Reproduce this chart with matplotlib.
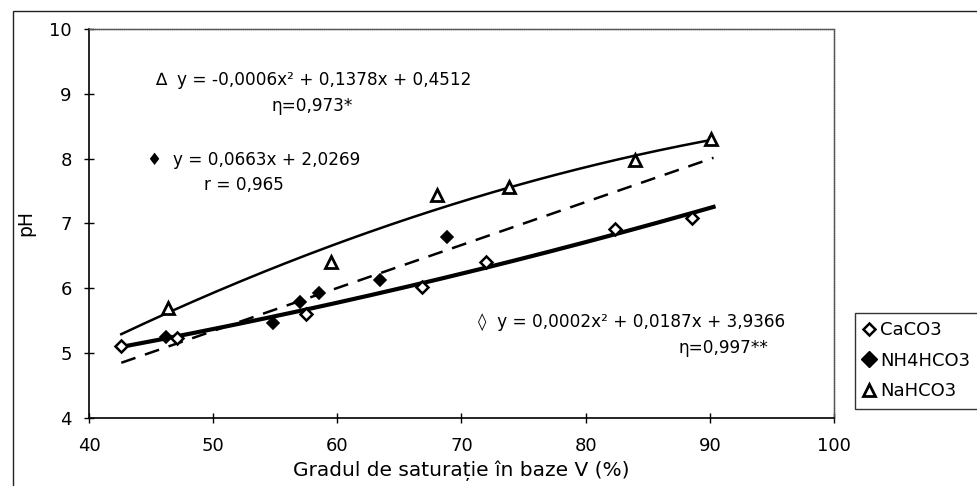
import numpy as np
import matplotlib
matplotlib.use("Agg")
import matplotlib.pyplot as plt
from matplotlib.patches import Rectangle
from matplotlib.lines import Line2D

plt.rcParams['font.family'] = ['DejaVu Sans']

# measurements: base saturation V (%) vs pH
caco3_x = [42.6, 47.1, 57.5, 66.8, 72.0, 82.4, 88.6]
caco3_y = [5.11, 5.23, 5.61, 6.02, 6.41, 6.91, 7.08]

nh4_x = [46.2, 54.8, 57.0, 58.5, 63.4, 68.8]
nh4_y = [5.25, 5.47, 5.79, 5.92, 6.13, 6.79]

na_x = [46.4, 59.5, 68.0, 73.8, 84.0, 90.1]
na_y = [5.69, 6.41, 7.44, 7.57, 7.98, 8.30]

# trendline coefficients (highest power first)
caco3_coef = [0.0002, 0.0187, 3.9366]
nh4_coef = [0.0663, 2.0269]
fit_range = (42.6, 90.3)

fig = plt.figure(figsize=(9.77, 4.86), dpi=100)
ax = fig.add_axes([0.0911, 0.140, 0.7625, 0.8003])

# outer chart frame
fig.patches.append(Rectangle((13 / 977, -0.05), 1.1, 1 - 11 / 486 + 0.05,
                             transform=fig.transFigure, fill=False,
                             edgecolor='#222222', linewidth=1.0))

xs = np.linspace(*fit_range, 200)
na_coef = np.polyfit(na_x, na_y, 2)
ax.plot(xs, np.polyval(na_coef, xs), color='black', lw=1.8)
ax.plot(xs, np.polyval(nh4_coef, xs), color='black', lw=1.8, dashes=(6, 4))
ax.plot(xs, np.polyval(caco3_coef, xs), color='black', lw=3.0)

ax.plot(caco3_x, caco3_y, linestyle='none', marker='D', ms=6.5,
        mfc='white', mec='black', mew=1.8)
ax.plot(nh4_x, nh4_y, linestyle='none', marker='D', ms=6.5,
        mfc='black', mec='black', mew=1.2)
ax.plot(na_x, na_y, linestyle='none', marker='^', ms=9,
        mfc='white', mec='black', mew=2.0)

ax.set_xlim(40, 100)
ax.set_ylim(4, 10)
ax.set_xticks(range(40, 101, 10))
ax.set_yticks(range(4, 11))
ax.tick_params(direction='inout', length=7, width=1, labelsize=13)
ax.tick_params(axis='x', pad=10)
ax.tick_params(axis='y', pad=9)
for s in ['top', 'right']:
    ax.spines[s].set_color('#555555')
    ax.spines[s].set_linewidth(1.0)
    ax.spines[s].set_linestyle((0, (1, 0.5)))
for s in ['left', 'bottom']:
    ax.spines[s].set_linewidth(1.2)

ax.set_xlabel('Gradul de saturație în baze V (%)', fontsize=14.5, labelpad=4)
ax.set_ylabel('pH', fontsize=13.5, labelpad=10)

fs = 12.2
ax.text(45.3, 9.21, '∆  y = -0,0006x² + 0,1378x + 0,4512', fontsize=fs,
        ha='left', va='center')
ax.text(58.0, 8.81, 'η=0,973*', fontsize=fs, ha='center', va='center')
ax.text(44.7, 7.98, '♦  y = 0,0663x + 2,0269', fontsize=fs,
        ha='left', va='center')
ax.text(52.5, 7.59, 'r = 0,965', fontsize=fs, ha='center', va='center')
ax.text(71.3, 5.48, '◊  y = 0,0002x² + 0,0187x + 3,9366', fontsize=fs,
        ha='left', va='center')
ax.text(91.1, 5.08, 'η=0,997**', fontsize=fs, ha='center', va='center')

handles = [
    Line2D([], [], linestyle='none', marker='D', ms=6, mfc='white', mec='black', mew=1.8),
    Line2D([], [], linestyle='none', marker='D', ms=8, mfc='black', mec='black'),
    Line2D([], [], linestyle='none', marker='^', ms=9, mfc='white', mec='black', mew=2.0),
]
leg = fig.legend(handles, ['CaCO3', 'NH4HCO3', 'NaHCO3'],
                 loc='upper left', bbox_to_anchor=(855 / 977, 1 - 313 / 486),
                 frameon=True, fancybox=False, edgecolor='black',
                 fontsize=13, handlelength=0.7, handletextpad=0.25,
                 borderpad=0.45, labelspacing=0.7, borderaxespad=0)
leg.get_frame().set_linewidth(1.0)

fig.savefig('out.png', dpi=100)
